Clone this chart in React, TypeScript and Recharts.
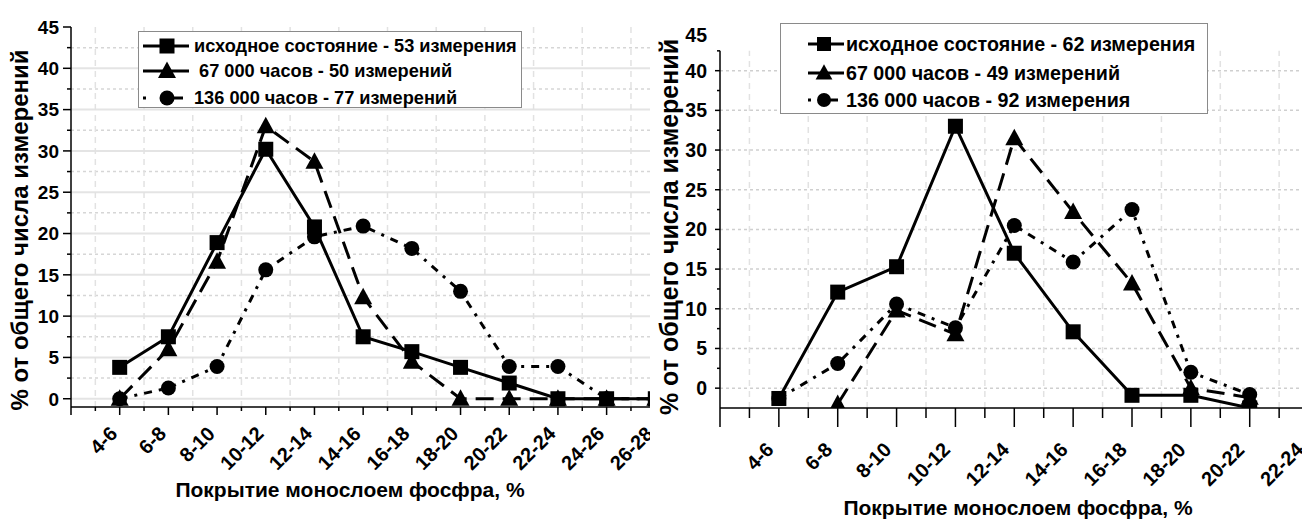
import React from 'react';
import { LineChart, Line, XAxis, YAxis, ReferenceLine } from 'recharts';

// left panel
const leftCategories = ['4-6', '6-8', '8-10', '10-12', '12-14', '14-16', '16-18', '18-20', '20-22', '22-24', '24-26', '26-28'];
const leftInitial = [3.8, 7.5, 18.9, 30.2, 20.8, 7.5, 5.7, 3.8, 1.9, 0, 0, 0];
const left67k = [0, 6.0, 16.6, 33.0, 28.7, 12.3, 4.5, 0, 0, 0, 0, 0];
const left136k = [0, 1.3, 3.9, 15.6, 19.6, 20.9, 18.2, 13.0, 3.9, 3.9, 0, 0];
const leftLegend = ['исходное состояние - 53 измерения', '\u00a067 000 часов - 50 измерений', '136 000 часов - 77 измерений'];

// right panel
const rightCategories = ['4-6', '6-8', '8-10', '10-12', '12-14', '14-16', '16-18', '18-20', '20-22', '22-24'];
const rightInitial = [-1.3, 12.1, 15.3, 33.0, 17.0, 7.1, -0.9, -0.9, -2.5, null];
const right67k = [null, -2.0, 9.8, 6.8, 31.5, 22.2, 13.2, 0, -1.2, null];
const right136k = [-1.3, 3.1, 10.6, 7.6, 20.5, 15.9, 22.5, 2.0, -0.8, null];
const rightLegend = ['исходное состояние - 62 измерения', '67 000 часов - 49 измерений', '136 000 часов - 92 измерения'];

const xTitle = 'Покрытие монослоем фосфра, %';
const yTitle = '% от общего числа измерений';

const FONT = '"Liberation Sans", Arial, sans-serif';
const shapes = ['square', 'triangle', 'circle'];
const dashes = [undefined, '18 9', '8 7 3 7'];

const Marker = ({ shape, cx, cy, size }: any) => {
  if (cx == null || cy == null) return <g />;
  if (shape === 'square') {
    return <rect x={cx - size / 2} y={cy - size / 2} width={size} height={size} fill="#000" />;
  }
  if (shape === 'triangle') {
    const w = size * 1.2;
    const h = size * 1.05;
    return <polygon points={`${cx},${cy - h * 0.6} ${cx - w / 2},${cy + h * 0.45} ${cx + w / 2},${cy + h * 0.45}`} fill="#000" />;
  }
  return <circle cx={cx} cy={cy} r={size / 2} fill="#000" />;
};

const buildRows = (cats: string[], a: any[], b: any[], c: any[]) =>
  cats.map((cat, i) => ({ idx: i + 1, cat, s0: a[i], s1: b[i], s2: c[i] }));

const LegendBox = ({ cfg, labels }: any) => (
  <div
    style={{
      position: 'absolute', left: cfg.left, top: cfg.top, width: cfg.width, height: cfg.height,
      border: '1px solid #8a8a8a', background: '#fff', boxSizing: 'border-box',
    }}
  >
    {labels.map((label: string, i: number) => (
      <div key={label} style={{ position: 'absolute', left: 0, top: cfg.rows[i] - cfg.top - 12, height: 24, display: 'flex', alignItems: 'center' }}>
        <svg width={cfg.iconW} height={24} style={{ marginLeft: cfg.iconX }}>
          {i < 2 ? (
            <line x1={2} x2={cfg.iconW - 2} y1={12} y2={12} stroke="#000" strokeWidth={3} />
          ) : (
            <g>
              <rect x={2} y={10.5} width={3} height={3} fill="#000" />
              <line x1={cfg.markX} x2={cfg.iconW - 8} y1={12} y2={12} stroke="#000" strokeWidth={3} />
            </g>
          )}
          <Marker shape={shapes[i]} cx={cfg.markX} cy={12} size={cfg.markSize} />
        </svg>
        <span style={{ fontFamily: FONT, fontWeight: 700, fontSize: cfg.fontSize, marginLeft: cfg.gap, whiteSpace: 'pre', color: '#000' }}>
          {label}
        </span>
      </div>
    ))}
  </div>
);

const Panel = ({ p }: any) => {
  const rows = buildRows(p.cats, p.series[0], p.series[1], p.series[2]);
  const xTicks: number[] = [];
  for (let v = 0; v <= p.xMax + 0.001; v += 0.5) xTicks.push(v);
  const yTicks: number[] = [];
  for (let v = 0; v <= 45.001; v += 2.5) yTicks.push(v);
  const majorGrid = [0, 5, 10, 15, 20, 25, 30, 35, 40];
  const minorGrid = [2.5, 7.5, 12.5, 17.5, 22.5, 27.5, 32.5, 37.5, 42.5];
  const vGrid = xTicks.filter((v) => v > 0 && !Number.isInteger(v));

  const renderXTick = (t: any) => {
    const { x, y, payload } = t;
    const v = payload.value;
    const major = Math.abs(v - Math.round(v)) < 0.01;
    const label = major && v >= 1 ? p.cats[Math.round(v) - 1] : '';
    const lx = x + p.xLabelDx;
    const ly = y + p.xLabelDy;
    return (
      <g>
        <line x1={x} x2={x} y1={y} y2={y + (major ? p.xMajor : p.xMinor)} stroke="#000" strokeWidth={1.5} />
        {label ? (
          <text x={lx} y={ly} textAnchor="end" transform={`rotate(-45 ${lx} ${ly})`} fontFamily={FONT} fontWeight={700} fontSize={p.xFont} fill="#000">
            {label}
          </text>
        ) : null}
      </g>
    );
  };

  const renderYTick = (t: any) => {
    const { x, y, payload } = t;
    const v = payload.value;
    const major = Math.abs(v / 5 - Math.round(v / 5)) < 0.01;
    const noLine = p.top45Free && v === 45;
    return (
      <g>
        {noLine ? null : (
          <line x1={x - (major ? p.yMajor : p.yMinor)} x2={x} y1={y} y2={y} stroke="#000" strokeWidth={1.5} />
        )}
        {major ? (
          <text x={x - p.yLabelGap} y={y + (noLine ? 4 : 0)} dy="0.36em" textAnchor="end" fontFamily={FONT} fontWeight={700} fontSize={p.yFont} fill="#000">
            {v}
          </text>
        ) : null}
      </g>
    );
  };

  return (
    <div style={{ position: 'absolute', left: p.left, top: 0, width: p.clipW, height: 522, overflow: 'hidden' }}>
      <LineChart width={p.chartW} height={522} data={rows} margin={p.margin}>
        {p.solidMajor
          ? majorGrid.map((g) => <ReferenceLine key={`hm${g}`} y={g} stroke="#e4e4e4" strokeWidth={2} />)
          : majorGrid.map((g) => <ReferenceLine key={`hm${g}`} y={g} stroke="#cfcfcf" strokeWidth={1.5} strokeDasharray="3 3" />)}
        {p.solidMajor
          ? minorGrid.map((g) => <ReferenceLine key={`hn${g}`} y={g} stroke="#d6d6d6" strokeWidth={1.5} strokeDasharray="3 3" />)
          : null}
        {vGrid.map((g) => (
          <ReferenceLine
            key={`v${g}`}
            segment={[{ x: g, y: p.yMin }, { x: g, y: p.gridTop }]}
            stroke="#e2e2e2"
            strokeWidth={1.5}
            strokeDasharray="6 5"
          />
        ))}
        <ReferenceLine segment={[{ x: 0, y: p.yMin }, { x: 0, y: p.gridTop }]} stroke="#000" strokeWidth={1.5} />
        <XAxis
          type="number"
          dataKey="idx"
          domain={[0, p.xMax]}
          ticks={xTicks}
          interval={0}
          tickSize={0}
          tickMargin={0}
          height={30}
          tickLine={false}
          axisLine={{ stroke: '#000', strokeWidth: 1.5 }}
          tick={renderXTick}
          allowDataOverflow
        />
        <YAxis
          type="number"
          domain={[p.yMin, 45]}
          ticks={yTicks}
          interval={0}
          tickSize={0}
          tickMargin={0}
          width={40}
          tickLine={false}
          axisLine={false}
          tick={renderYTick}
          allowDataOverflow
        />
        {[0, 1, 2].map((i) => (
          <Line
            key={`s${i}`}
            type="linear"
            dataKey={`s${i}`}
            stroke="#000"
            strokeWidth={3}
            strokeDasharray={dashes[i]}
            isAnimationActive={false}
            connectNulls={false}
            dot={(d: any) => (
              <Marker key={`m${i}-${d.index}`} shape={shapes[i]} cx={d.cx} cy={d.cy} size={p.markSize} />
            )}
            activeDot={false}
          />
        ))}
      </LineChart>
      <div
        style={{
          position: 'absolute', left: p.xTitleX, top: p.xTitleY, transform: 'translate(-50%, -50%)',
          fontFamily: FONT, fontWeight: 700, fontSize: p.xTitleFont, whiteSpace: 'nowrap', color: '#000',
        }}
      >
        {xTitle}
      </div>
      <div
        style={{
          position: 'absolute', left: p.yTitleX, top: p.yTitleY, transform: 'translate(-50%, -50%) rotate(-90deg)',
          fontFamily: FONT, fontWeight: 700, fontSize: p.yTitleFont, whiteSpace: 'nowrap', color: '#000',
        }}
      >
        {yTitle}
      </div>
    </div>
  );
};

const leftPanel = {
  left: 0, clipW: 650, chartW: 720,
  margin: { top: 27, left: 31, right: 16, bottom: 85 },
  cats: leftCategories, series: [leftInitial, left67k, left136k],
  xMax: 13, yMin: -1, gridTop: 45, solidMajor: true, top45Free: false,
  xMajor: 8, xMinor: 4, yMajor: 8, yMinor: 4, yLabelGap: 12,
  xLabelDx: -1, xLabelDy: 28, xFont: 20, yFont: 19, markSize: 15,
  xTitleX: 350, xTitleY: 490, xTitleFont: 21,
  yTitleX: 20, yTitleY: 230, yTitleFont: 24,
};

const rightPanel = {
  left: 650, clipW: 652, chartW: 700,
  margin: { top: 31, left: 30, right: 12, bottom: 84 },
  cats: rightCategories, series: [rightInitial, right67k, right136k],
  xMax: 10.5, yMin: -2.5, gridTop: 42.5, solidMajor: false, top45Free: true,
  xMajor: 19, xMinor: 10, yMajor: 5, yMinor: 3, yLabelGap: 13,
  xLabelDx: -4, xLabelDy: 43, xFont: 20, yFont: 19.5, markSize: 15,
  xTitleX: 368, xTitleY: 508, xTitleFont: 21,
  yTitleX: 19, yTitleY: 227, yTitleFont: 25,
};

const leftLegendCfg = {
  left: 138, top: 31, width: 384, height: 77, rows: [45, 70, 97],
  iconX: 2, iconW: 50, markX: 26, markSize: 15, gap: 3, fontSize: 18.2,
};

const rightLegendCfg = {
  left: 780, top: 23, width: 428, height: 91, rows: [43, 72, 99],
  iconX: 25, iconW: 40, markX: 18, markSize: 14, gap: 0, fontSize: 19.7,
};

export default function App() {
  return (
    <div style={{ position: 'absolute', left: 0, top: 0, width: 1302, height: 522, background: '#fff', overflow: 'hidden' }}>
      <Panel p={leftPanel} />
      <Panel p={rightPanel} />
      <LegendBox cfg={leftLegendCfg} labels={leftLegend} />
      <LegendBox cfg={rightLegendCfg} labels={rightLegend} />
    </div>
  );
}
